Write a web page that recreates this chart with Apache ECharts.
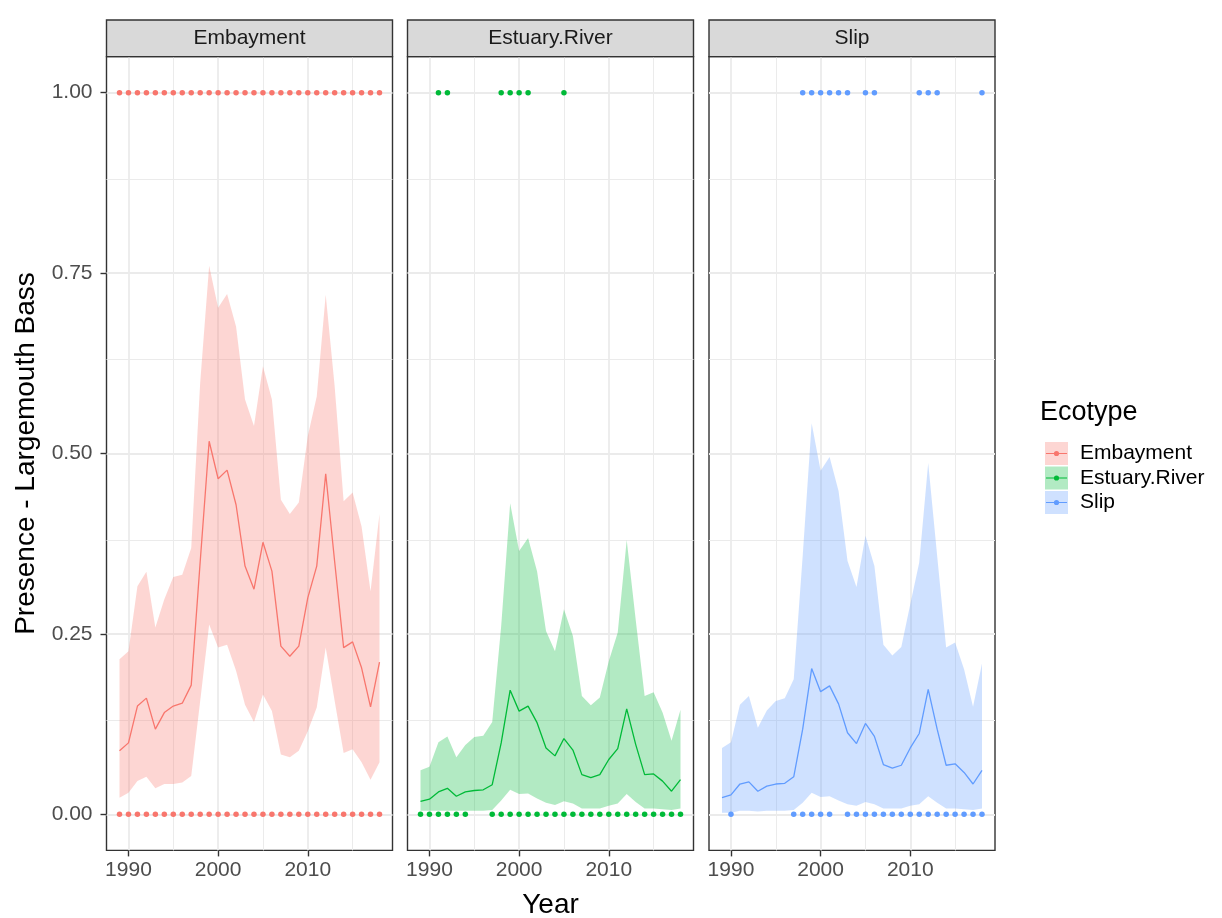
<!DOCTYPE html>
<html>
<head>
<meta charset="utf-8">
<script src="https://cdn.jsdelivr.net/npm/echarts@6/dist/echarts.min.js"></script>
<style>
html,body{margin:0;padding:0;background:#fff;}
#chart{width:1222px;height:918px;}
</style>
</head>
<body>
<div id="chart"></div>
<script>
// ---------------- DATA ----------------
const years = [1989,1990,1991,1992,1993,1994,1995,1996,1997,1998,1999,2000,2001,2002,2003,2004,2005,2006,2007,2008,2009,2010,2011,2012,2013,2014,2015,2016,2017,2018];
const ecotypes = ['Embayment','Estuary.River','Slip'];

const embFit   = [0.088,0.099,0.150,0.161,0.118,0.141,0.150,0.154,0.179,0.350,0.517,0.465,0.477,0.429,0.344,0.312,0.377,0.337,0.233,0.219,0.233,0.300,0.344,0.472,0.350,0.231,0.239,0.203,0.149,0.211];
const embUpper = [0.215,0.226,0.316,0.336,0.259,0.298,0.329,0.332,0.369,0.598,0.760,0.702,0.721,0.676,0.575,0.538,0.621,0.575,0.436,0.416,0.432,0.524,0.579,0.720,0.593,0.434,0.446,0.399,0.309,0.416];
const embLower = [0.023,0.030,0.046,0.052,0.036,0.042,0.042,0.044,0.053,0.157,0.263,0.231,0.235,0.199,0.152,0.128,0.166,0.143,0.083,0.079,0.088,0.115,0.148,0.231,0.157,0.085,0.090,0.072,0.048,0.072];

const estFit   = [0.018,0.021,0.031,0.036,0.025,0.031,0.033,0.034,0.041,0.099,0.172,0.143,0.150,0.127,0.092,0.081,0.105,0.089,0.055,0.051,0.055,0.076,0.091,0.146,0.097,0.055,0.056,0.046,0.032,0.048];
const estUpper = [0.061,0.066,0.100,0.108,0.079,0.096,0.107,0.109,0.128,0.261,0.431,0.365,0.383,0.337,0.254,0.226,0.284,0.247,0.164,0.151,0.162,0.212,0.252,0.380,0.270,0.164,0.169,0.141,0.102,0.145];
const estLower = [0.005,0.005,0.005,0.005,0.005,0.005,0.005,0.005,0.006,0.019,0.034,0.028,0.029,0.022,0.016,0.013,0.018,0.015,0.008,0.008,0.008,0.012,0.015,0.028,0.017,0.008,0.008,0.007,0.006,0.008];

const slipFit   = [0.023,0.027,0.042,0.045,0.032,0.039,0.042,0.043,0.052,0.118,0.202,0.170,0.178,0.153,0.113,0.098,0.126,0.108,0.069,0.064,0.068,0.092,0.112,0.173,0.118,0.068,0.070,0.058,0.042,0.061];
const slipUpper = [0.092,0.100,0.152,0.164,0.120,0.144,0.157,0.161,0.187,0.358,0.542,0.476,0.495,0.448,0.351,0.315,0.386,0.344,0.235,0.220,0.232,0.291,0.349,0.487,0.358,0.231,0.238,0.201,0.149,0.209];
const slipLower = [0.002,0.002,0.005,0.005,0.004,0.005,0.005,0.005,0.006,0.016,0.030,0.024,0.025,0.019,0.014,0.012,0.017,0.014,0.008,0.008,0.008,0.012,0.014,0.025,0.016,0.008,0.008,0.007,0.006,0.008];

// observed presence (1) / absence (0) years
const embPresent = [1989,1990,1991,1992,1993,1994,1995,1996,1997,1998,1999,2000,2001,2002,2003,2004,2005,2006,2007,2008,2009,2010,2011,2012,2013,2014,2015,2016,2017,2018];
const embAbsent  = [1989,1990,1991,1992,1993,1994,1995,1996,1997,1998,1999,2000,2001,2002,2003,2004,2005,2006,2007,2008,2009,2010,2011,2012,2013,2014,2015,2016,2017,2018];
const estPresent = [1991,1992,1998,1999,2000,2001,2005];
const estAbsent  = [1989,1990,1991,1992,1993,1994,1997,1998,1999,2000,2001,2002,2003,2004,2005,2006,2007,2008,2009,2010,2011,2012,2013,2014,2015,2016,2017,2018];
const slipPresent = [1998,1999,2000,2001,2002,2003,2005,2006,2011,2012,2013,2018];
const slipAbsent  = [1990,1997,1998,1999,2000,2001,2003,2004,2005,2006,2007,2008,2009,2010,2011,2012,2013,2014,2015,2016,2017,2018];

const xTicks = [1990,2000,2010];
const xMinor = [1995,2005,2015];
const yTicks = [0,0.25,0.5,0.75,1];
const yMinor = [0.125,0.375,0.625,0.875];

// ---------------- STYLE ----------------
const colors = ['#F8766D','#00BA38','#619CFF'];
const fills = ['rgba(248,118,109,0.3)','rgba(0,186,56,0.3)','rgba(97,156,255,0.3)'];
const FONT = "'Liberation Sans', Arial, Helvetica, sans-serif";
const panelLeft = [106.5, 407.5, 709];
const panelW = 286;
const panelTop = 56.6;
const panelH = 793.8;
const stripTop = 20;

const fits = [embFit, estFit, slipFit];
const uppers = [embUpper, estUpper, slipUpper];
const lowers = [embLower, estLower, slipLower];
const presents = [embPresent, estPresent, slipPresent];
const absents = [embAbsent, estAbsent, slipAbsent];

const grids = [], xAxes = [], yAxes = [], series = [], graphics = [];

const gridMarks = [];
yTicks.forEach(v => gridMarks.push({yAxis: v, lineStyle: {width: 1.8}}));
yMinor.forEach(v => gridMarks.push({yAxis: v, lineStyle: {width: 1.0}}));
xTicks.forEach(v => gridMarks.push({xAxis: v, lineStyle: {width: 1.8}}));
xMinor.forEach(v => gridMarks.push({xAxis: v, lineStyle: {width: 1.0}}));

function makeRibbon(i) {
  return function (params, api) {
    if (params.dataIndex !== 0) return null;
    const pts = [];
    for (let k = 0; k < years.length; k++) pts.push(api.coord([years[k], uppers[i][k]]));
    for (let k = years.length - 1; k >= 0; k--) pts.push(api.coord([years[k], lowers[i][k]]));
    return {
      type: 'polygon',
      shape: {points: pts},
      style: {fill: fills[i], stroke: null}
    };
  };
}

for (let i = 0; i < 3; i++) {
  grids.push({
    left: panelLeft[i], top: panelTop, width: panelW, height: panelH,
    outerBoundsMode: 'none', containLabel: false,
    show: true, borderColor: '#333333', borderWidth: 1.4, backgroundColor: '#ffffff'
  });
  xAxes.push({
    type: 'value', gridIndex: i, min: 1987.55, max: 2019.45, position: 'bottom',
    axisLine: {show: false, onZero: false},
    splitLine: {show: false},
    axisTick: {show: true, customValues: xTicks, length: 6, lineStyle: {color: '#333333', width: 1.4}},
    axisLabel: {show: true, customValues: xTicks, formatter: v => String(v), fontSize: 21, color: '#4D4D4D', fontFamily: FONT, margin: 9},
    name: i === 1 ? 'Year' : '',
    nameLocation: 'middle', nameGap: 41,
    nameTextStyle: {fontSize: 28, color: '#000', fontFamily: FONT}
  });
  yAxes.push({
    type: 'value', gridIndex: i, min: -0.05, max: 1.05, position: 'left',
    axisLine: {show: false, onZero: false},
    splitLine: {show: false},
    axisTick: {show: i === 0, customValues: yTicks, length: 6, lineStyle: {color: '#333333', width: 1.4}},
    axisLabel: {show: i === 0, customValues: yTicks, formatter: v => v.toFixed(2), fontSize: 21, color: '#4D4D4D', fontFamily: FONT, margin: 14},
    name: i === 0 ? 'Presence - Largemouth Bass' : '',
    nameLocation: 'middle', nameGap: 66,
    nameTextStyle: {fontSize: 28, color: '#000', fontFamily: FONT}
  });

  const ribbonData = years.map((y, k) => [y, lowers[i][k], uppers[i][k]]);
  const fitData = years.map((y, k) => [y, fits[i][k]]);
  const ptData = presents[i].map(y => [y, 1]).concat(absents[i].map(y => [y, 0]));

  // gridline carrier (invisible line, only its markLine is drawn)
  series.push({
    type: 'line', name: ecotypes[i] + ' grid', xAxisIndex: i, yAxisIndex: i,
    data: fitData, symbol: 'none', showSymbol: false, silent: true, z: 0,
    lineStyle: {opacity: 0},
    markLine: {
      z: 0, silent: true, symbol: ['none','none'], label: {show: false}, animation: false,
      lineStyle: {color: '#EBEBEB', type: 'solid'},
      emphasis: {disabled: true},
      data: gridMarks
    }
  });
  series.push({
    type: 'custom', name: ecotypes[i], xAxisIndex: i, yAxisIndex: i,
    data: ribbonData, encode: {x: 0, y: [1, 2]}, silent: true, z: 2,
    renderItem: makeRibbon(i),
    itemStyle: {color: colors[i]}
  });
  series.push({
    type: 'line', name: ecotypes[i], xAxisIndex: i, yAxisIndex: i,
    data: fitData, symbol: 'none', showSymbol: false, silent: true, z: 3,
    lineStyle: {color: colors[i], width: 1.3}, itemStyle: {color: colors[i]}
  });
  series.push({
    type: 'scatter', name: ecotypes[i], xAxisIndex: i, yAxisIndex: i,
    data: ptData, symbol: 'circle', symbolSize: 5.5, silent: true, z: 10,
    itemStyle: {color: colors[i], opacity: 1}
  });

  graphics.push({
    type: 'rect', shape: {x: panelLeft[i], y: stripTop, width: panelW, height: panelTop - stripTop},
    style: {fill: '#D9D9D9', stroke: '#333333', lineWidth: 1.4}, z: 10
  });
  graphics.push({
    type: 'text', x: panelLeft[i] + panelW / 2, y: (stripTop + panelTop) / 2,
    style: {text: ecotypes[i], fill: '#1A1A1A', font: '21px ' + FONT, textAlign: 'center', textVerticalAlign: 'middle'}, z: 11
  });
}

graphics.push({
  type: 'text', left: 1040, top: 399,
  style: {text: 'Ecotype', fill: '#000', font: '27px ' + FONT}, z: 11
});

const iconPath = 'path://M0,0L0.01,0L0,0.01Z M24,24L23.99,24L24,23.99Z M1,11.4L23,11.4L23,12.6L1,12.6Z M14.7,12A2.7,2.7,0,1,1,9.3,12A2.7,2.7,0,1,1,14.7,12Z';

const option = {
  animation: false,
  backgroundColor: '#ffffff',
  textStyle: {fontFamily: FONT},
  grid: grids, xAxis: xAxes, yAxis: yAxes, series: series,
  graphic: graphics,
  legend: [
    {
      orient: 'vertical', left: 1040, top: 437, itemWidth: 23, itemHeight: 23, itemGap: 1.5,
      selectedMode: false,
      data: ecotypes.map((e, i) => ({name: e, icon: 'rect', itemStyle: {color: fills[i], borderWidth: 0}})),
      textStyle: {fontSize: 21, color: '#000', fontFamily: FONT, padding: [0, 0, 0, 7]}
    },
    {
      orient: 'vertical', left: 1040, top: 437, itemWidth: 23, itemHeight: 23, itemGap: 1.5,
      selectedMode: false, z: 5,
      data: ecotypes.map((e, i) => ({name: e, icon: iconPath, itemStyle: {color: colors[i], borderWidth: 0}})),
      textStyle: {fontSize: 21, color: 'rgba(0,0,0,0)', fontFamily: FONT, padding: [0, 0, 0, 7]}
    }
  ]
};

const chart = echarts.init(document.getElementById('chart'), null, {renderer: 'canvas'});
chart.setOption(option);
</script>
</body>
</html>
